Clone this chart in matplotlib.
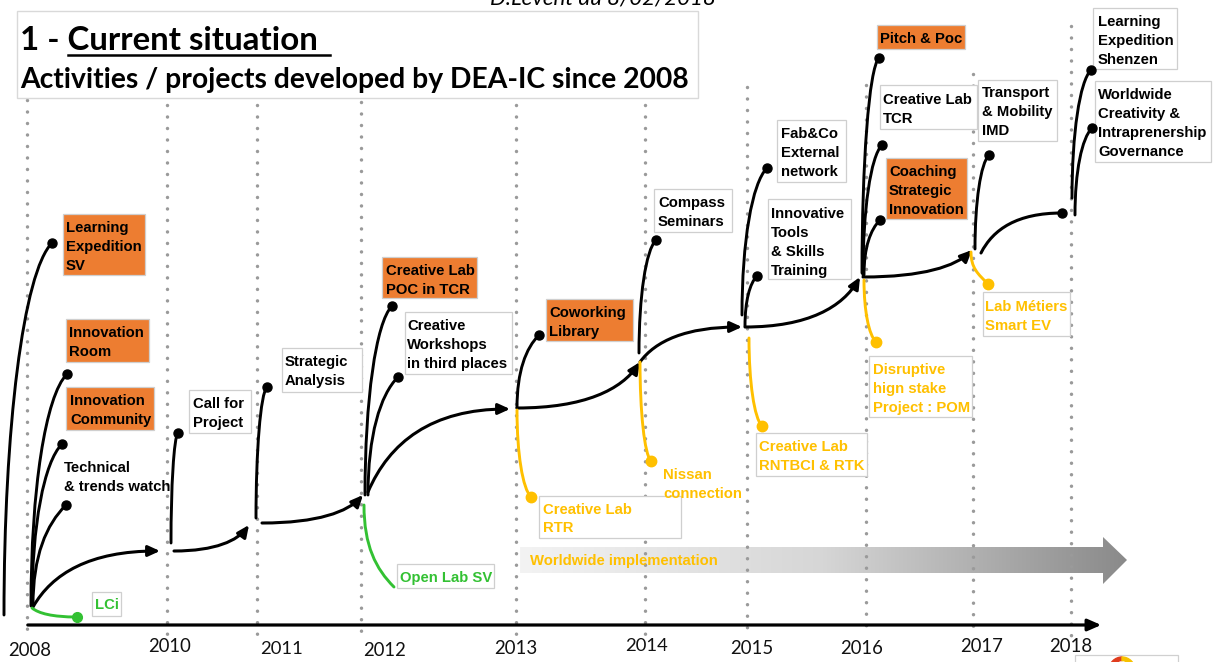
import numpy as np
import matplotlib
matplotlib.use("Agg")
import matplotlib.pyplot as plt
from matplotlib.path import Path
from matplotlib.patches import FancyArrowPatch, Rectangle, Polygon, Wedge
from matplotlib.colors import LinearSegmentedColormap

# ---------------- data (text content) ----------------
year_labels = ['2008', '2010', '2011', '2012', '2013', '2014', '2015', '2016', '2017', '2018']
author_note = 'D.Levent du 8/02/2018'
title_prefix = '1 - '
title_main = 'Current situation'
subtitle = 'Activities / projects developed by DEA-IC since 2008'

highlight_projects = ['Learning\nExpedition\nSV', 'Innovation\nRoom', 'Innovation\nCommunity',
                      'Creative Lab\nPOC in TCR', 'Coworking\nLibrary', 'Pitch & Poc',
                      'Coaching\nStrategic\nInnovation']
activities = ['Technical\n& trends watch', 'Call for\nProject', 'Strategic\nAnalysis',
              'Creative\nWorkshops\nin third places', 'Compass\nSeminars',
              'Fab&Co\nExternal\nnetwork', 'Innovative\nTools\n& Skills\nTraining',
              'Creative Lab\nTCR', 'Transport\n& Mobility\nIMD',
              'Learning\nExpedition\nShenzen',
              'Worldwide\nCreativity &\nIntraprenership\nGovernance']
worldwide_projects = ['Creative Lab\nRTR', 'Nissan\nconnection', 'Creative Lab\nRNTBCI & RTK',
                      'Disruptive\nhign stake\nProject : POM', 'Lab Métiers\nSmart EV']
open_labs = ['LCi', 'Open Lab SV']
implementation_label = 'Worldwide implementation'

# ---------------- layout (pixel positions of the diagram) ----------------
year_line_x = [27, 167, 257, 361, 516, 645, 747, 866, 973, 1071]
year_line_top = [100, 105, 105, 102, 105, 105, 87, 85, 74, 26]
year_label_xy = [(30, 650), (170, 646), (282, 649), (385, 651), (516, 649),
                 (647, 646), (752, 648), (862, 648), (982, 646), (1071, 646)]

highlight_boxes = [(63, 214, 145, 275), (66, 319, 149, 362), (66, 387, 154, 430),
                   (382, 257, 477, 298), (546, 299, 633, 341), (877, 25, 965, 49),
                   (886, 158, 967, 219)]
highlight_text_xy = [(66, 227), (69, 332), (70, 400), (386, 270), (549, 312), (880, 38), (889, 171)]

activity_boxes = [None, (189, 390, 251, 433), (282, 348, 362, 392), (405, 312, 512, 374),
                  (654, 189, 732, 232), (777, 120, 846, 182), (768, 199, 851, 279),
                  (880, 85, 977, 129), (978, 80, 1057, 141), (1093, 8, 1177, 69),
                  (1095, 81, 1211, 162)]
activity_text_xy = [(64, 467), (193, 403), (285, 361), (407, 325), (658, 202), (781, 133),
                    (771, 213), (883, 99), (982, 92), (1098, 21), (1098, 94)]

worldwide_boxes = [(539, 496, 681, 538), None, (756, 433, 867, 476), (869, 356, 972, 417),
                   (983, 292, 1070, 336)]
worldwide_text_xy = [(543, 509), (663, 474), (759, 446), (873, 369), (985, 306)]

open_lab_boxes = [(92, 592, 121, 616), (397, 564, 494, 588)]
open_lab_text_xy = [(95, 604), (400, 577)]

black_branches = [((4, 615), (52, 243)), ((31, 606), (67, 374)), ((32, 606), (62, 444)),
                  ((33, 606), (66, 505)), ((171, 543), (178, 433)), ((256, 518), (267, 387)),
                  ((365, 495), (392, 306)), ((368, 495), (398, 377)), ((517, 408), (539, 335)),
                  ((639, 353), (656, 240)), ((742, 315), (767, 168)), ((745, 326), (757, 276)),
                  ((862, 273), (879, 58)), ((863, 275), (882, 145)), ((864, 275), (880, 220)),
                  ((975, 249), (989, 155)), ((1072, 198), (1091, 70)), ((1075, 215), (1092, 128))]
yellow_branches = [((517, 410), (531, 497)), ((640, 362), (651, 461)), ((749, 338), (762, 426)),
                   ((864, 280), (876, 342)), ((971, 252), (988, 284))]
green_branches = [((32, 608), (77, 617), 'vh', True), ((364, 505), (394, 587), 'branch', False)]

main_path = [((33, 607), (160, 551), 'vh'), ((174, 551), (249, 525), 'hv'),
             ((262, 523), (363, 495), 'hv'), ((368, 492), (510, 409), 'vh'),
             ((517, 408), (640, 362), 'hv'), ((640, 362), (742, 327), 'vh'),
             ((745, 327), (860, 277), 'hv'), ((863, 277), (972, 250), 'hv')]
main_last = ((981, 253), (1062, 213))

ORANGE = '#ED7D31'
YELLOW = '#FFC000'
GREEN = '#33C133'
BORDER = '#cfcfcf'
DOTS = '#9a9a9a'
BOXFONT = dict(family='Liberation Sans', weight='bold', fontsize=10.7)

W, H = 1216, 662
fig = plt.figure(figsize=(W / 100, H / 100), dpi=100)
ax = fig.add_axes([0, 0, 1, 1])
ax.set_xlim(0, W)
ax.set_ylim(H, 0)
ax.axis('off')
renderer = fig.canvas.get_renderer()


def fit_width(t, target):
    for _ in range(3):
        w = t.get_window_extent(renderer).width
        t.set_fontsize(t.get_fontsize() * target / w)
    return t


def controls(start, end, shape):
    x0, y0 = start
    x1, y1 = end
    dx, dy = x1 - x0, y1 - y0
    if shape == 'branch':
        c = 0.6 * dx
        p1 = (x0, y0 + 0.5 * dy)
        p2 = (x1 - c, y1 - np.sign(dy) * c)
    elif shape == 'vh':
        p1 = (x0 + 0.15 * dx, y0 + 0.6 * dy)
        p2 = (x0 + 0.45 * dx, y1)
    else:  # 'hv'
        p1 = (x0 + 0.55 * dx, y0)
        p2 = (x1 - 0.15 * dx, y1 - 0.6 * dy)
    return Path([start, p1, p2, end], [Path.MOVETO, Path.CURVE4, Path.CURVE4, Path.CURVE4])


def curve(start, end, shape, color, lw, arrow=False, dot=False, ms=6.5, z=4):
    style = '-|>,head_length=0.7,head_width=0.32' if arrow else '-'
    p = FancyArrowPatch(path=controls(start, end, shape), arrowstyle=style, mutation_scale=10,
                        color=color, lw=lw, zorder=z, capstyle='round', joinstyle='round')
    ax.add_patch(p)
    if dot:
        ax.plot([end[0]], [end[1]], 'o', color=color, ms=ms, zorder=z + 0.1)


def box(b, face='white', z=3):
    if b is None:
        return
    x0, y0, x1, y1 = b
    ax.add_patch(Rectangle((x0, y0), x1 - x0, y1 - y0, facecolor=face, edgecolor=BORDER,
                           lw=0.9, zorder=z))


def label(text, xy, color, step=19):
    x, cy = xy
    for i, line in enumerate(text.split('\n')):
        ax.text(x, cy + i * step + 5.3, line, color=color, va='baseline', ha='left',
                zorder=6, **BOXFONT)


# dotted year lines
for x, top in zip(year_line_x, year_line_top):
    ax.plot([x, x], [top, 636], color=DOTS, lw=2.5, linestyle=(0, (0.01, 3.3)),
            dash_capstyle='round', zorder=2)

# gradient arrow "Worldwide implementation"
arrow_verts = [(520, 547), (1103, 547), (1103, 537), (1127, 560), (1103, 584), (1103, 573), (520, 573)]
poly = Polygon(arrow_verts, closed=True, facecolor='none', edgecolor='none', zorder=1)
ax.add_patch(poly)
cmap = LinearSegmentedColormap.from_list('g', ['#f3f3f3', '#d6d6d6', '#8a8a8a'])
im = ax.imshow(np.linspace(0, 1, 256).reshape(1, -1), extent=[520, 1127, 584, 537],
               cmap=cmap, aspect='auto', zorder=1, interpolation='bilinear')
im.set_clip_path(poly)
ax.set_xlim(0, W)
ax.set_ylim(H, 0)
ax.text(530, 560 + 5.3, implementation_label, color=YELLOW, va='baseline', zorder=6, **BOXFONT)

# bottom axis
ax.add_patch(FancyArrowPatch((25, 625), (1104, 625), arrowstyle='-|>,head_length=0.8,head_width=0.35',
                             mutation_scale=10, color='black', lw=2.3, zorder=3))
for lab, (x, y) in zip(year_labels, year_label_xy):
    t = ax.text(x, y, lab, ha='center', va='center', family='Lato', fontsize=14, color='#111111', zorder=6)
    fit_width(t, 43)

# title box
ax.add_patch(Rectangle((17, 11), 681, 87, facecolor='white', edgecolor='#d9d9d9', lw=1, zorder=5))
t1 = ax.text(20, 50, title_prefix + title_main, family='Lato', weight='bold', fontsize=24,
             va='baseline', zorder=6)
fit_width(t1, 298)
tp = ax.text(20, 50, title_prefix, family='Lato', weight='bold', fontsize=t1.get_fontsize(),
             va='baseline', alpha=0)
wp = tp.get_window_extent(renderer).width
ws = t1.get_window_extent(renderer).width
ax.plot([20 + wp, 20 + ws + 12], [55, 55], color='black', lw=1.8, zorder=6)
t2 = ax.text(20, 88, subtitle, family='Lato', weight='bold', fontsize=20, va='baseline', zorder=6)
fit_width(t2, 666)
tn = ax.text(490, 5, author_note, family='Lato', style='italic', fontsize=14, va='baseline', zorder=6)
fit_width(tn, 226)

# main progression path
for s, e, shape in main_path:
    curve(s, e, shape, 'black', 2.2, arrow=True)
curve(main_last[0], main_last[1], 'vh', 'black', 2.2, dot=True)

# branches
for s, e in black_branches:
    curve(s, e, 'branch', 'black', 2.1, dot=True)
for s, e in yellow_branches:
    curve(s, e, 'branch', YELLOW, 2.1, dot=True, ms=7.5)
for s, e, shape, d in green_branches:
    curve(s, e, shape, GREEN, 2.1, dot=d, ms=7)

# labels
for txt, b, xy in zip(highlight_projects, highlight_boxes, highlight_text_xy):
    box(b, face=ORANGE)
    label(txt, xy, 'black')
for i, (txt, b, xy) in enumerate(zip(activities, activity_boxes, activity_text_xy)):
    box(b)
    label(txt, xy, 'black', step=18.5 if i == 0 else 19)
for i, (txt, b, xy) in enumerate(zip(worldwide_projects, worldwide_boxes, worldwide_text_xy)):
    box(b)
    label(txt, xy, YELLOW, step=18 if i == 0 else 19)
for txt, b, xy in zip(open_labs, open_lab_boxes, open_lab_text_xy):
    box(b)
    label(txt, xy, GREEN)

# small logo at bottom right
ax.add_patch(Rectangle((1075, 655), 103, 20, facecolor='white', edgecolor='#d0d0d0', lw=0.9, zorder=3))
ax.add_patch(Wedge((1122, 670), 13, 180, 270, width=3.5, color='#E03C1E', zorder=4))
ax.add_patch(Wedge((1122, 670), 13, 270, 360, width=3.5, color='#F6C100', zorder=4))

fig.savefig('out.png', dpi=100)
